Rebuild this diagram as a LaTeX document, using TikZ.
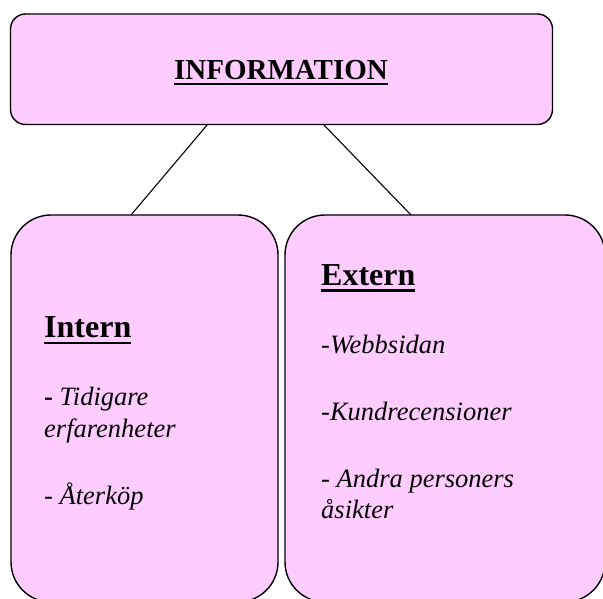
\documentclass[tikz,border=0pt]{standalone}
\usepackage{fontspec}
\setmainfont{Liberation Serif}
\definecolor{boxpink}{HTML}{FFCCFF}
\newcommand{\ulbox}[3]{\setbox0\hbox{#1}\rlap{\vrule height -#2 depth #3 width \wd0}\box0}
\begin{document}
\begin{tikzpicture}[x=1pt,y=-1pt,
  box/.style={draw=black, line width=1.4pt, fill=boxpink, inner sep=0pt, outer sep=0pt},
  conn/.style={draw=black, line width=1.1pt},
  head/.style={anchor=base west, inner sep=0pt, font=\fontsize{32}{38}\selectfont\bfseries},
  item/.style={anchor=base west, inner sep=0pt, font=\fontsize{26.5}{32}\selectfont\itshape}]
\useasboundingbox (0,0) rectangle (603,599);
% boxes
\node[box, rounded corners=15pt, minimum width=542pt, minimum height=110.5pt] (top) at (281.5,69.25) {};
\node[box, rounded corners=40pt, minimum width=267pt, minimum height=387pt] (leftbox) at (144.5,408.5) {};
\node[box, rounded corners=40pt, minimum width=320pt, minimum height=387pt] (rightbox) at (445,408.5) {};
% connectors
\draw[conn] ([xshift=197pt]top.south west) -- ([xshift=120pt]leftbox.north west);
\draw[conn] ([xshift=313pt]top.south west) -- ([xshift=126pt]rightbox.north west);
% title
\node[anchor=base, inner sep=0pt, font=\fontsize{29}{34}\selectfont\bfseries] (title) at (281,80) {\ulbox{INFORMATION}{3.2pt}{5.4pt}};
% left column
\node[head] (intern) at (44,337) {\ulbox{Intern}{4.8pt}{7.3pt}};
\node[item] (l1) at (44,405) {{\upshape\bfseries -} Tidigare};
\node[item] (l2) at (44,437) {erfarenheter};
\node[item] (l3) at (44,504) {- Återköp};
% right column
\node[head] (extern) at (321,285) {\ulbox{Extern}{4.2pt}{6.8pt}};
\node[item] (r1) at (321,353) {-Webbsidan};
\node[item] (r2) at (321,420) {-Kundrecensioner};
\node[item] (r3) at (321,487) {- Andra personers};
\node[item] (r4) at (321,518.5) {åsikter};
\end{tikzpicture}
\end{document}
